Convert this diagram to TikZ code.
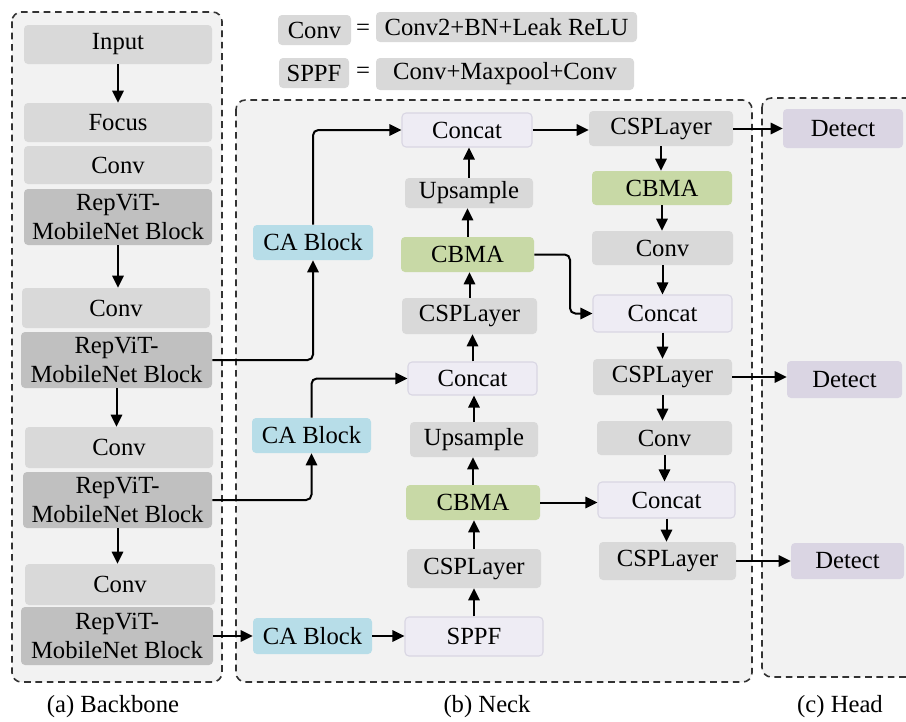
\documentclass[tikz,border=0pt]{standalone}
\usepackage{fontspec}
\setmainfont{Liberation Serif}
\newfontfamily\tnr{Liberation Serif}
\usetikzlibrary{arrows.meta}
\definecolor{bgc}{HTML}{F2F2F2}
\definecolor{lgray}{HTML}{D9D9D9}
\definecolor{dgray}{HTML}{C0C0C0}
\definecolor{cablue}{HTML}{B7DDE8}
\definecolor{cbgreen}{HTML}{C8D9A6}
\definecolor{catfill}{HTML}{EEECF4}
\definecolor{catdraw}{HTML}{D9D6E3}
\definecolor{detfill}{HTML}{DAD5E3}
\definecolor{dashc}{HTML}{333333}
\newcommand{\bx}[7]{\node[#1, minimum width={(#5-#3)*0.75pt}, minimum height={(#6-#4)*0.75pt}] (#2) at ({(#3+#5)/2},{(#4+#6)/2}) {#7};}
\tikzset{
  base/.style={rounded corners=3pt, inner sep=0pt, align=center, text=black,
    font=\tnr\fontsize{18.5}{21.5}\selectfont},
  lbox/.style={base, fill=lgray},
  dbox/.style={base, fill=dgray},
  cabox/.style={base, fill=cablue},
  cbbox/.style={base, fill=cbgreen},
  catbox/.style={base, fill=catfill, draw=catdraw, line width=0.8pt},
  detbox/.style={base, fill=detfill},
  region/.style={draw=dashc, fill=bgc, line width=1.2pt, dash pattern=on 5pt off 3.5pt, rounded corners=7pt},
  arr/.style={-{Triangle[length=9pt,width=8.5pt]}, line width=1.5pt, rounded corners=4pt},
  lab/.style={inner sep=0pt, text=black, font=\tnr\fontsize{18.5}{21.5}\selectfont}
}
\begin{document}
\begin{tikzpicture}[x=0.75pt,y=-0.75pt]
\clip (0,0) rectangle (906,721);
\fill[white] (0,0) rectangle (906,721);
% regions
\draw[region] (12,12) rectangle (222,682);
\draw[region] (236,100) rectangle (752,682);
\draw[region] (762,98) rectangle (930,677);
% legend
\bx{lbox}{lconv}{278}{15}{351}{45}{Conv}
\node[lab] (eq1) at (363,30) {=};
\bx{lbox}{ldef1}{376}{12}{637}{42}{Conv2+BN+Leak ReLU}
\bx{lbox}{lsppf}{279}{58}{349}{88}{SPPF}
\node[lab] (eq2) at (363,73) {=};
\bx{lbox}{ldef2}{376}{58}{634}{90}{Conv+Maxpool+Conv}
% backbone
\bx{lbox}{inp}{24}{25}{212}{64}{Input}
\bx{lbox}{focus}{24}{103}{212}{142}{Focus}
\bx{lbox}{bc1}{24}{146}{212}{184}{Conv}
\bx{dbox}{rv1}{24}{189}{212}{245}{RepViT-\\MobileNet Block}
\bx{lbox}{bc2}{22}{288}{210}{328}{Conv}
\bx{dbox}{rv2}{21}{332}{212}{388}{RepViT-\\MobileNet Block}
\bx{lbox}{bc3}{25}{427}{213}{468}{Conv}
\bx{dbox}{rv3}{23}{472}{212}{528}{RepViT-\\MobileNet Block}
\bx{lbox}{bc4}{25}{564}{215}{605}{Conv}
\bx{dbox}{rv4}{21}{607}{213}{665}{RepViT-\\MobileNet Block}
% neck middle column
\bx{catbox}{cat1}{402}{113}{532}{147}{Concat}
\bx{lbox}{up1}{405}{178}{533}{208}{Upsample}
\bx{cbbox}{cb1}{401}{237}{534}{272}{CBMA}
\bx{lbox}{csp1}{402}{298}{537}{334}{CSPLayer}
\bx{catbox}{cat2}{408}{362}{537}{395}{Concat}
\bx{lbox}{up2}{410}{422}{538}{457}{Upsample}
\bx{cbbox}{cb2}{406}{485}{540}{520}{CBMA}
\bx{lbox}{csp2}{407}{549}{541}{588}{CSPLayer}
\bx{catbox}{sppf}{405}{617}{543}{656}{SPPF}
% CA blocks
\bx{cabox}{ca1}{253}{225}{373}{260}{CA Block}
\bx{cabox}{ca2}{252}{418}{371}{453}{CA Block}
\bx{cabox}{ca3}{253}{618}{372}{654}{CA Block}
% neck right column
\bx{lbox}{cspa}{589}{111}{733}{146}{CSPLayer}
\bx{cbbox}{cba}{592}{171}{732}{205}{CBMA}
\bx{lbox}{cva}{592}{231}{733}{265}{Conv}
\bx{catbox}{cata}{593}{295}{732}{332}{Concat}
\bx{lbox}{cspb}{593}{359}{732}{395}{CSPLayer}
\bx{lbox}{cvb}{597}{421}{732}{455}{Conv}
\bx{catbox}{catc}{598}{482}{735}{518}{Concat}
\bx{lbox}{cspc}{599}{542}{736}{580}{CSPLayer}
% head
\bx{detbox}{det1}{783}{109}{903}{148}{Detect}
\bx{detbox}{det2}{787}{361}{902}{398}{Detect}
\bx{detbox}{det3}{791}{543}{904}{579}{Detect}
% captions
\node[lab] (capa) at (113,707) {(a) Backbone};
\node[lab] (capb) at (487,707) {(b) Neck};
\node[lab] (capc) at (840,707) {(c) Head};
% coordinates
\coordinate (k1) at (570,255);
% backbone arrows
\draw[arr] (inp.south) -- (inp.south |- focus.north);
\draw[arr] (rv1.south) -- (rv1.south |- bc2.north);
\draw[arr] (rv2.south) -- (rv2.south |- bc3.north);
\draw[arr] (rv3.south) -- (rv3.south |- bc4.north);
% backbone to neck
\draw[arr] (rv2.east) -| (ca1.south);
\draw[arr] (ca1.north) |- (cat1.west);
\draw[arr] (rv3.east) -| (ca2.south);
\draw[arr] (ca2.north) |- (cat2.west);
\draw[arr] (rv4.east) -- (ca3.west);
\draw[arr] (ca3.east) -- (ca3.east -| sppf.west);
% middle column ups
\draw[arr] (sppf.north) -- (sppf.north |- csp2.south);
\draw[arr] (csp2.north) -- (csp2.north |- cb2.south);
\draw[arr] (cb2.north) -- (cb2.north |- up2.south);
\draw[arr] (up2.north) -- (up2.north |- cat2.south);
\draw[arr] (cat2.north) -- (cat2.north |- csp1.south);
\draw[arr] (csp1.north) -- (csp1.north |- cb1.south);
\draw[arr] (cb1.north) -- (cb1.north |- up1.south);
\draw[arr] (up1.north) -- (up1.north |- cat1.south);
% cross links
\draw[arr] (cat1.east) -- (cat1.east -| cspa.west);
\draw[arr] (cb1.east) -- (cb1.east -| k1) |- (cata.west);
\draw[arr] (cb2.east) -- (cb2.east -| catc.west);
% right column downs
\draw[arr] (cspa.south) -- (cspa.south |- cba.north);
\draw[arr] (cba.south) -- (cba.south |- cva.north);
\draw[arr] (cva.south) -- (cva.south |- cata.north);
\draw[arr] (cata.south) -- (cata.south |- cspb.north);
\draw[arr] (cspb.south) -- (cspb.south |- cvb.north);
\draw[arr] (cvb.south) -- (cvb.south |- catc.north);
\draw[arr] (catc.south) -- (catc.south |- cspc.north);
% to head
\draw[arr] (cspa.east) -- (cspa.east -| det1.west);
\draw[arr] (cspb.east) -- (cspb.east -| det2.west);
\draw[arr] (cspc.east) -- (cspc.east -| det3.west);
\end{tikzpicture}
\end{document}
